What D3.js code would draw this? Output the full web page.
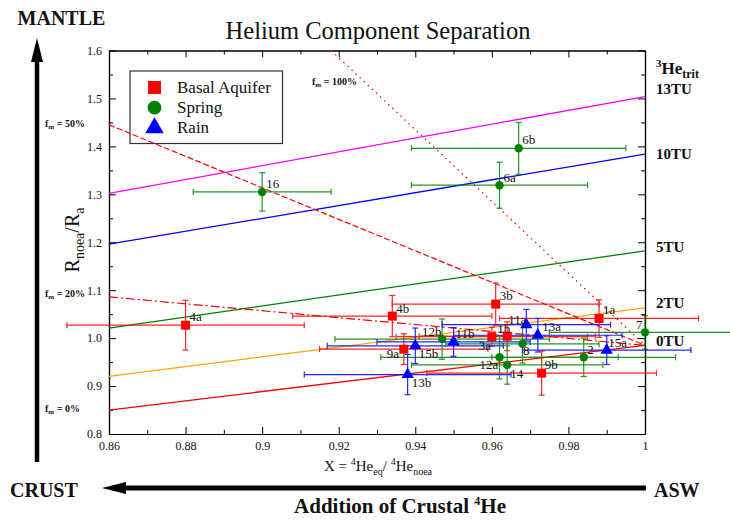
<!DOCTYPE html>
<html>
<head>
<meta charset="utf-8">
<script src="https://cdn.jsdelivr.net/npm/d3@7"></script>
<style>
  body { margin: 0; background: #fff; }
  svg { display: block; }
  text { font-family: "Liberation Serif", "Times New Roman", serif; fill: #111; }
</style>
</head>
<body>
<svg id="chart" width="730" height="521"></svg>
<script>
// ---- axis setup ----
const xDomain = [0.86, 1.0];
const yDomain = [0.8, 1.6];
const xMajorTicks = [0.86, 0.88, 0.90, 0.92, 0.94, 0.96, 0.98, 1.00];
const xTickLabels = ["0.86", "0.88", "0.9", "0.92", "0.94", "0.96", "0.98", "1"];
const xMinorTicks = [0.87, 0.89, 0.91, 0.93, 0.95, 0.97, 0.99];
const yMajorTicks = [0.8, 0.9, 1.0, 1.1, 1.2, 1.3, 1.4, 1.5, 1.6];
const yTickLabels = ["0.8", "0.9", "1.0", "1.1", "1.2", "1.3", "1.4", "1.5", "1.6"];
const yMinorTicks = [0.85, 0.95, 1.05, 1.15, 1.25, 1.35, 1.45, 1.55];

// ---- samples: Basal Aquifer ----
const basalIds   = ["1a", "1b", "3a", "3b", "4a", "4b", "9a", "9b"];
const basalX     = [0.988, 0.964, 0.960, 0.961, 0.880, 0.934, 0.937, 0.973];
const basalY     = [1.041, 1.004, 1.003, 1.071, 1.027, 1.046, 0.977, 0.927];
const basalXErr  = [0.026, 0.023, 0.025, 0.027, 0.031, 0.026, 0.022, 0.030];
const basalYErr  = [0.039, 0.030, 0.020, 0.044, 0.052, 0.043, 0.032, 0.046];

// ---- samples: Spring ----
const springIds  = ["16", "6a", "6b", "12a", "12b", "14", "8", "2", "7"];
const springX    = [0.900, 0.962, 0.967, 0.962, 0.947, 0.964, 0.968, 0.984, 1.000];
const springY    = [1.305, 1.319, 1.396, 0.960, 0.998, 0.944, 0.988, 0.960, 1.012];
const springXErr = [0.018, 0.023, 0.028, 0.031, 0.028, 0.025, 0.020, 0.024, 0.025];
const springYErr = [0.040, 0.048, 0.054, 0.045, 0.042, 0.040, 0.040, 0.040, 0.035];

// ---- samples: Rain ----
const rainIds    = ["11a", "11b", "13a", "13b", "15a", "15b"];
const rainX      = [0.969, 0.950, 0.972, 0.938, 0.990, 0.940];
const rainY      = [1.028, 0.992, 1.006, 0.924, 0.975, 0.984];
const rainXErr   = [0.022, 0.020, 0.022, 0.027, 0.022, 0.023];
const rainYErr   = [0.032, 0.030, 0.035, 0.042, 0.030, 0.037];

const seriesNames  = ["Basal Aquifer", "Spring", "Rain"];
const seriesColors = ["#ff0000", "#008000", "#0000ff"];

// ---- tritium mixing lines (X = 0.86 -> X = 1) ----
const tritiumLabels = ["0TU", "2TU", "5TU", "10TU", "13TU"];
const tritiumStartY = [0.850, 0.920, 1.021, 1.196, 1.302];
const tritiumEndY   = [0.985, 1.063, 1.182, 1.384, 1.504];
const tritiumColors = ["#ff0000", "#ffa500", "#008000", "#0000ff", "#ff00ff"];

// ---- mantle fraction lines, all ending at ASW (1, 0.985) ----
const mantleLabels = ["20%", "50%", "100%"];
const mantleStartX = [0.86, 0.86, 0.918];
const mantleStartY = [1.086, 1.445, 1.6];
const aswPoint = [1.0, 0.985];

// ---- layout ----
const plot = { left: 109, right: 645, top: 50.5, bottom: 434 };
// label offsets (px) from each marker to the start of its text baseline
const labelOffsets = {
  "1a": [4, -4], "1b": [-10, -3], "3a": [-13, 13.5], "3b": [4, -4], "4a": [4, -4],
  "4b": [4, -3], "9a": [-17, 9], "9b": [3, -4],
  "16": [4, -4], "6a": [4, -3], "6b": [3.5, -4], "12a": [-20, 12], "12b": [-20, -3],
  "14": [3, 13], "8": [0.5, 11.5], "2": [3.5, -3], "7": [-9, -3],
  "11a": [-18, -1], "11b": [2, -4], "13a": [4.5, -4], "13b": [4, 12.5],
  "15a": [1.5, -3], "15b": [3.5, 12.5]
};
// vertical nudges (px) of the TU labels relative to each line end
const tuLabelNudge = [-1, -2, -1, 3, -5];

const svg = d3.select("#chart");
const x = d3.scaleLinear().domain(xDomain).range([plot.left, plot.right]);
const y = d3.scaleLinear().domain(yDomain).range([plot.bottom, plot.top]);

// ---- title ----
svg.append("text").attr("x", 378).attr("y", 39).attr("text-anchor", "middle")
  .style("font-size", "24.5px").text("Helium Component Separation");

// ---- axes (ticks pointing inward on all four sides) ----
function styleAxis(g) {
  g.attr("font-family", null);
  g.selectAll("path.domain").attr("stroke", "#000").attr("stroke-width", 1.2);
  g.selectAll(".tick line").attr("stroke", "#000").attr("stroke-width", 1);
  g.selectAll(".tick text").style("font-size", "12px")
    .style("font-family", "'Liberation Serif', serif").attr("fill", "#222");
}
svg.append("g").attr("transform", `translate(0,${plot.bottom})`)
  .call(d3.axisBottom(x).tickValues(xMajorTicks).tickSize(-7).tickSizeOuter(0).tickPadding(7)
    .tickFormat((d, i) => xTickLabels[i]))
  .call(styleAxis);
svg.append("g").attr("transform", `translate(0,${plot.bottom})`)
  .call(d3.axisBottom(x).tickValues(xMinorTicks).tickSize(-4).tickSizeOuter(0).tickFormat(""))
  .call(styleAxis);
svg.append("g").attr("transform", `translate(0,${plot.top})`)
  .call(d3.axisTop(x).tickValues(xMajorTicks).tickSize(-7).tickSizeOuter(0).tickFormat(""))
  .call(styleAxis);
svg.append("g").attr("transform", `translate(0,${plot.top})`)
  .call(d3.axisTop(x).tickValues(xMinorTicks).tickSize(-4).tickSizeOuter(0).tickFormat(""))
  .call(styleAxis);
svg.append("g").attr("transform", `translate(${plot.left},0)`)
  .call(d3.axisLeft(y).tickValues(yMajorTicks).tickSize(-7).tickSizeOuter(0).tickPadding(7)
    .tickFormat((d, i) => yTickLabels[i]))
  .call(styleAxis);
svg.append("g").attr("transform", `translate(${plot.left},0)`)
  .call(d3.axisLeft(y).tickValues(yMinorTicks).tickSize(-4).tickSizeOuter(0).tickFormat(""))
  .call(styleAxis);
svg.append("g").attr("transform", `translate(${plot.right},0)`)
  .call(d3.axisRight(y).tickValues(yMajorTicks).tickSize(-7).tickSizeOuter(0).tickFormat(""))
  .call(styleAxis);
svg.append("g").attr("transform", `translate(${plot.right},0)`)
  .call(d3.axisRight(y).tickValues(yMinorTicks).tickSize(-4).tickSizeOuter(0).tickFormat(""))
  .call(styleAxis);

// ---- axis titles ----
const xt = svg.append("text").attr("x", 378).attr("y", 471).attr("text-anchor", "middle")
  .style("font-size", "15px");
xt.append("tspan").text("X = ");
xt.append("tspan").attr("dy", -6).style("font-size", "10px").text("4");
xt.append("tspan").attr("dy", 6).text("He");
xt.append("tspan").attr("dy", 4).style("font-size", "10px").text("eq");
xt.append("tspan").attr("dy", -4).text("/ ");
xt.append("tspan").attr("dy", -6).style("font-size", "10px").text("4");
xt.append("tspan").attr("dy", 6).text("He");
xt.append("tspan").attr("dy", 4).style("font-size", "10px").text("noea");

const yt = svg.append("text").attr("transform", "translate(79,240) rotate(-90)")
  .attr("text-anchor", "middle").style("font-size", "20px");
yt.append("tspan").text("R");
yt.append("tspan").attr("dy", 5).style("font-size", "14px").text("noea");
yt.append("tspan").attr("dy", -5).text("/R");
yt.append("tspan").attr("dy", 5).style("font-size", "14px").text("a");

// ---- mixing lines ----
const line = d3.line().x(d => x(d[0])).y(d => y(d[1]));
const lines = svg.append("g").attr("fill", "none");
tritiumLabels.forEach((lab, i) => {
  lines.append("path")
    .attr("d", line([[xDomain[0], tritiumStartY[i]], [xDomain[1], tritiumEndY[i]]]))
    .attr("stroke", tritiumColors[i]).attr("stroke-width", 1.3);
});
const mantleDash = ["9,3,2,3", "6,2.5", "1.6,4"];
mantleLabels.forEach((lab, i) => {
  lines.append("path")
    .attr("d", line([[mantleStartX[i], mantleStartY[i]], aswPoint]))
    .attr("stroke", "#ff0000").attr("stroke-width", 1.2)
    .attr("stroke-dasharray", mantleDash[i]);
});

// ---- samples ----
function buildSeries(ids, xs, ys, xe, ye, k) {
  return ids.map((id, i) => ({ id, x: xs[i], y: ys[i], xe: xe[i], ye: ye[i], k }));
}
const samples = [
  ...buildSeries(basalIds, basalX, basalY, basalXErr, basalYErr, 0),
  ...buildSeries(springIds, springX, springY, springXErr, springYErr, 1),
  ...buildSeries(rainIds, rainX, rainY, rainXErr, rainYErr, 2)
];

const errG = svg.append("g").attr("stroke-width", 1.2).attr("opacity", 0.85);
const cap = 3;
samples.forEach(d => {
  const c = seriesColors[d.k];
  const px = x(d.x), py = y(d.y);
  const x0 = x(d.x - d.xe), x1 = x(d.x + d.xe);
  const y0 = y(d.y - d.ye), y1 = y(d.y + d.ye);
  const g = errG.append("g").attr("stroke", c);
  g.append("line").attr("x1", x0).attr("x2", x1).attr("y1", py).attr("y2", py);
  g.append("line").attr("x1", x0).attr("x2", x0).attr("y1", py - cap).attr("y2", py + cap);
  g.append("line").attr("x1", x1).attr("x2", x1).attr("y1", py - cap).attr("y2", py + cap);
  g.append("line").attr("x1", px).attr("x2", px).attr("y1", y0).attr("y2", y1);
  g.append("line").attr("x1", px - cap).attr("x2", px + cap).attr("y1", y0).attr("y2", y0);
  g.append("line").attr("x1", px - cap).attr("x2", px + cap).attr("y1", y1).attr("y2", y1);
});

const symbolTypes = [d3.symbolSquare, d3.symbolCircle, d3.symbolTriangle];
const symbolSizes = [81, 56, 66];
svg.append("g").selectAll("path.mark").data(samples).join("path")
  .attr("class", "mark")
  .attr("transform", d => `translate(${x(d.x)},${y(d.y)})`)
  .attr("d", d => d3.symbol().type(symbolTypes[d.k]).size(symbolSizes[d.k])())
  .attr("fill", d => seriesColors[d.k]);

svg.append("g").selectAll("text.lbl").data(samples).join("text")
  .attr("class", "lbl")
  .attr("x", d => x(d.x) + labelOffsets[d.id][0])
  .attr("y", d => y(d.y) + labelOffsets[d.id][1])
  .style("font-size", "13px").attr("fill", "#222")
  .text(d => d.id);

// ---- legend ----
const leg = svg.append("g");
leg.append("rect").attr("x", 130).attr("y", 71).attr("width", 152.5).attr("height", 72.5)
  .attr("fill", "none").attr("stroke", "#333").attr("stroke-width", 1.2);
const legSizes = [170, 150, 150];
seriesNames.forEach((name, i) => {
  const cy = 87.5 + i * 20.2;
  leg.append("path").attr("transform", `translate(154.5,${cy})`)
    .attr("d", d3.symbol().type(symbolTypes[i]).size(legSizes[i])())
    .attr("fill", seriesColors[i]);
  leg.append("text").attr("x", 177).attr("y", cy + 5.5).style("font-size", "17px").text(name);
});

// ---- tritium labels on the right ----
const bold = "bold";
const trit = svg.append("text").attr("x", 656).attr("y", 74).style("font-weight", bold).style("font-size", "17px");
trit.append("tspan").attr("dy", -7).style("font-size", "11px").text("3");
trit.append("tspan").attr("dy", 7).text("He");
trit.append("tspan").attr("dy", 4).style("font-size", "12px").text("trit");
tritiumLabels.forEach((lab, i) => {
  svg.append("text").attr("x", 656).attr("y", y(tritiumEndY[i]) + tuLabelNudge[i] + 2)
    .style("font-weight", bold).style("font-size", "15px").text(lab);
});

// ---- mantle fraction labels ----
function fmLabel(xPos, yPos, pct) {
  const t = svg.append("text").attr("x", xPos).attr("y", yPos)
    .style("font-weight", bold).style("font-size", "10px");
  t.append("tspan").text("f");
  t.append("tspan").attr("dy", 2).style("font-size", "7px").text("m");
  t.append("tspan").attr("dy", -2).text(" = " + pct);
}
fmLabel(45, y(tritiumStartY[0]) + 2, "0%");
fmLabel(45, y(mantleStartY[0]) + 0.5, mantleLabels[0]);
fmLabel(45, y(mantleStartY[1]) + 2.5, mantleLabels[1]);
fmLabel(312, 85, mantleLabels[2]);

// ---- direction arrows ----
svg.append("line").attr("x1", 37).attr("x2", 37).attr("y1", 462).attr("y2", 58)
  .attr("stroke", "#000").attr("stroke-width", 4.5);
svg.append("path").attr("d", "M37,38 L31,62 L43,62 Z").attr("fill", "#000");
svg.append("line").attr("x1", 646).attr("x2", 122).attr("y1", 488).attr("y2", 488)
  .attr("stroke", "#000").attr("stroke-width", 4.8);
svg.append("path").attr("d", "M102,488 L126,482 L126,494 Z").attr("fill", "#000");

svg.append("text").attr("x", 61.5).attr("y", 25).attr("text-anchor", "middle")
  .style("font-weight", bold).style("font-size", "20px").text("MANTLE");
svg.append("text").attr("x", 10).attr("y", 497)
  .style("font-weight", bold).style("font-size", "20px").text("CRUST");
svg.append("text").attr("x", 654).attr("y", 497)
  .style("font-weight", bold).style("font-size", "20px").text("ASW");
const add = svg.append("text").attr("x", 400).attr("y", 513).attr("text-anchor", "middle")
  .style("font-weight", bold).style("font-size", "21px");
add.append("tspan").text("Addition of Crustal ");
add.append("tspan").attr("dy", -8).style("font-size", "12px").text("4");
add.append("tspan").attr("dy", 8).text("He");
</script>
</body>
</html>
